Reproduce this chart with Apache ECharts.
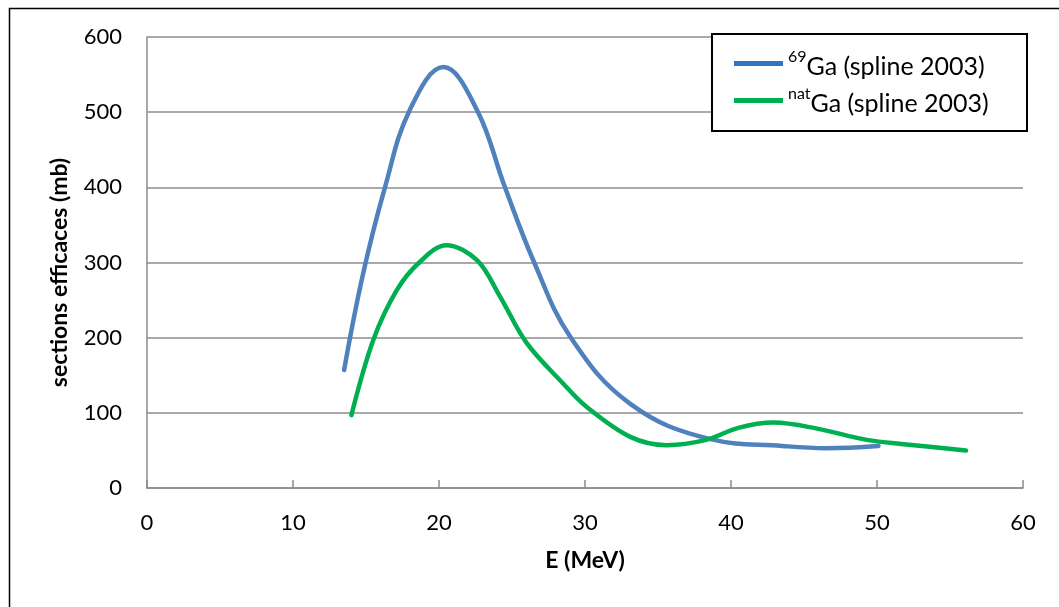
<!DOCTYPE html>
<html>
<head>
<meta charset="utf-8">
<script src="https://cdn.jsdelivr.net/npm/echarts@6/dist/echarts.min.js"></script>
<style>
html,body{margin:0;padding:0;background:#fff;}
#chart{width:1059px;height:607px;}
</style>
</head>
<body>
<div id="chart"></div>
<script>
// Data: [E (MeV), cross section (mb)]
var ga69Energy = [13.5, 14.8, 16.3, 18.0, 20.3, 22.6, 24.5, 26.5, 29.0, 33.1, 38.6, 43.5, 46.5, 50.1];
var ga69Sigma  = [157, 285, 400, 503, 560, 503, 401, 301, 201, 112, 65, 56, 53, 56];
var gaNatEnergy = [14.0, 15.5, 17.1, 18.7, 20.5, 22.6, 24.2, 26.0, 28.5, 30.1, 33.1, 35.6, 38.3, 40.5, 42.9, 45.9, 49.3, 52.0, 56.1];
var gaNatSigma  = [97, 197, 263, 301, 323, 303, 254, 193, 139, 108, 68, 57, 64, 80, 87, 79, 64, 58, 50];
var seriesNames = ['69Ga (spline 2003)', 'natGa (spline 2003)'];
var seriesSup = ['69', 'nat'];
var seriesRest = ['Ga (spline 2003)', 'Ga (spline 2003)'];
var xTicks = [0, 10, 20, 30, 40, 50, 60];
var yTicks = [0, 100, 200, 300, 400, 500, 600];

function pairs(xs, ys) { return xs.map(function (x, i) { return [x, ys[i]]; }); }

var FONT = 'Lato';
var chart = echarts.init(document.getElementById('chart'), null, {renderer: 'canvas'});
chart.setOption({
  animation: false,
  backgroundColor: '#fff',
  textStyle: {fontFamily: FONT},
  grid: {left: 147, right: 36, top: 37, bottom: 119, containLabel: false},
  graphic: [
    {type: 'rect', left: 7, top: 6, z: 0, silent: true,
     shape: {x: 0, y: 0, width: 1100, height: 700},
     style: {fill: 'none', stroke: '#000', lineWidth: 1.5}},
    {type: 'rect', left: 711, top: 33, z: 5, silent: true,
     shape: {x: 0, y: 0, width: 315, height: 97},
     style: {fill: '#fff', stroke: '#000', lineWidth: 2}}
  ],
  legend: {
    z: 10,
    orient: 'vertical',
    left: 729, top: 43,
    itemWidth: 49, itemHeight: 5,
    itemGap: 6,
    itemStyle: {borderWidth: 0},
    icon: 'rect',
    data: [
      {name: seriesNames[0], itemStyle: {color: '#2f75c1'}},
      {name: seriesNames[1], itemStyle: {color: '#00b050'}}
    ],
    formatter: function (name) {
      var i = seriesNames.indexOf(name);
      return '{s|' + seriesSup[i] + '}{n|' + seriesRest[i] + '}';
    },
    textStyle: {
      rich: {
        s: {fontFamily: FONT, fontSize: 16, color: '#000', verticalAlign: 'top', lineHeight: 30},
        n: {fontFamily: FONT, fontSize: 25, color: '#000', lineHeight: 30, padding: [6, 0, 0, 0]}
      }
    }
  },
  xAxis: {
    type: 'value', min: 0, max: 60, interval: 10,
    name: 'E (MeV)', nameLocation: 'middle', nameGap: 61,
    nameTextStyle: {fontFamily: FONT, fontSize: 23, fontWeight: 'bold', color: '#000'},
    axisLine: {show: true, lineStyle: {color: '#8c8c8c', width: 1.5}},
    axisTick: {show: true, inside: true, length: 8, lineStyle: {color: '#8c8c8c', width: 1.5}},
    axisLabel: {fontFamily: FONT, fontSize: 22, color: '#000', margin: 24,
      formatter: function (v) { return xTicks.indexOf(v) >= 0 ? String(v) : ''; }},
    splitLine: {show: false}
  },
  yAxis: {
    type: 'value', min: 0, max: 600, interval: 100,
    name: 'sections efficaces (mb)', nameLocation: 'middle', nameGap: 76, nameRotate: 90,
    nameTextStyle: {fontFamily: FONT, fontSize: 23, fontWeight: 'bold', color: '#000', padding: [0, 20, 0, 0]},
    axisLine: {show: true, lineStyle: {color: '#8c8c8c', width: 1.5}},
    axisTick: {show: false},
    axisLabel: {fontFamily: FONT, fontSize: 22, color: '#000', margin: 25,
      formatter: function (v) { return yTicks.indexOf(v) >= 0 ? String(v) : ''; }},
    splitLine: {show: true, lineStyle: {color: '#8c8c8c', width: 1.5}}
  },
  series: [
    {name: seriesNames[0], type: 'line', smooth: 0.4, symbol: 'none',
     data: pairs(ga69Energy, ga69Sigma), z: 3,
     lineStyle: {color: '#4f81bd', width: 4.5, cap: 'round', join: 'round'},
     itemStyle: {color: '#4f81bd'}},
    {name: seriesNames[1], type: 'line', smooth: 0.35, symbol: 'none',
     data: pairs(gaNatEnergy, gaNatSigma), z: 4,
     lineStyle: {color: '#00b050', width: 4.5, cap: 'round', join: 'round'},
     itemStyle: {color: '#00b050'}}
  ]
});
</script>
</body>
</html>
